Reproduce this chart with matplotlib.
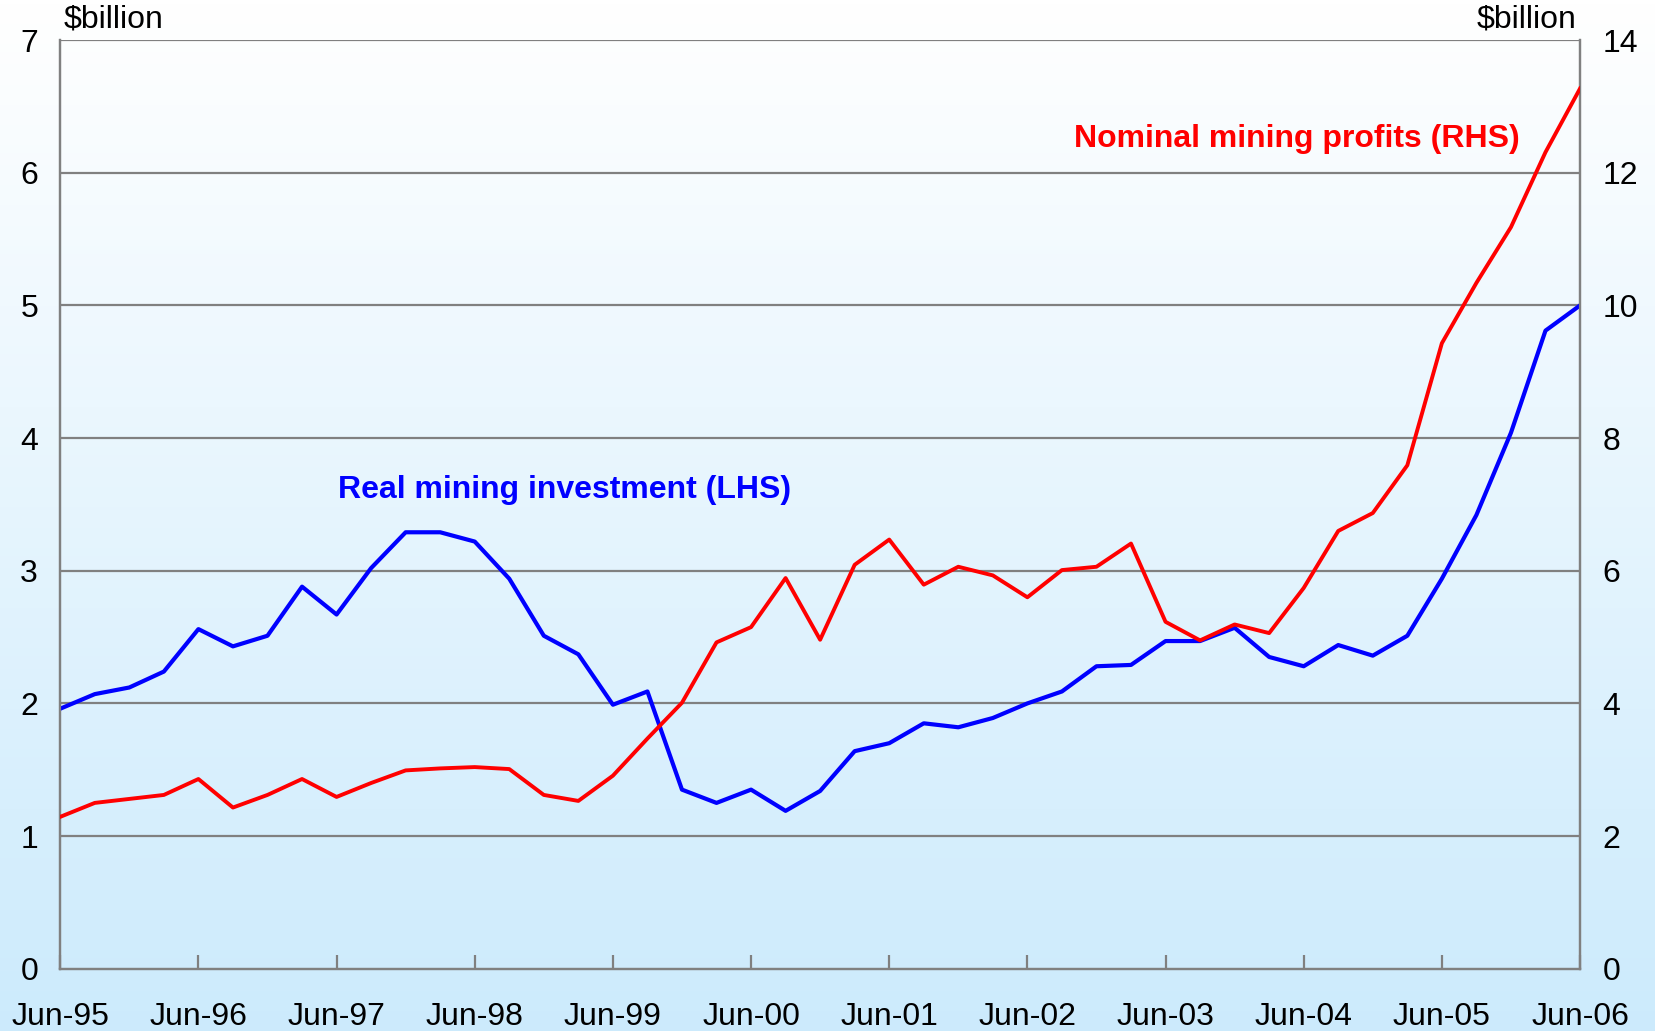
import matplotlib
matplotlib.use('Agg')
import matplotlib.pyplot as plt
import numpy as np

plt.rcParams['font.family'] = ['Liberation Sans', 'DejaVu Sans']

# quarterly, Jun-95 .. Jun-06
tick_labels = ['Jun-95', 'Jun-96', 'Jun-97', 'Jun-98', 'Jun-99', 'Jun-00',
               'Jun-01', 'Jun-02', 'Jun-03', 'Jun-04', 'Jun-05', 'Jun-06']

# real mining investment, $billion (LHS)
investment = [1.96, 2.07, 2.12, 2.24, 2.56, 2.43, 2.51, 2.88, 2.67, 3.02,
              3.29, 3.29, 3.22, 2.94, 2.51, 2.37, 1.99, 2.09, 1.35, 1.25,
              1.35, 1.19, 1.34, 1.64, 1.70, 1.85, 1.82, 1.89, 2.00, 2.09,
              2.28, 2.29, 2.47, 2.47, 2.57, 2.35, 2.28, 2.44, 2.36, 2.51,
              2.94, 3.42, 4.04, 4.81, 5.00]

# nominal mining profits, $billion (RHS)
profits = [2.29, 2.50, 2.56, 2.62, 2.86, 2.43, 2.62, 2.86, 2.59, 2.80,
           2.99, 3.02, 3.04, 3.01, 2.62, 2.53, 2.91, 3.47, 4.01, 4.92,
           5.15, 5.89, 4.96, 6.09, 6.47, 5.79, 6.06, 5.93, 5.60, 6.01,
           6.06, 6.41, 5.23, 4.95, 5.19, 5.06, 5.74, 6.60, 6.87, 7.59,
           9.43, 10.34, 11.18, 12.31, 13.27]

x = np.arange(len(investment))

fig = plt.figure(figsize=(16.55, 10.31), dpi=100)

# background gradient over the whole figure
bg = fig.add_axes([0, 0, 1, 1], zorder=-10)
grad = np.linspace(0, 1, 256).reshape(-1, 1)
top = np.array([1.0, 1.0, 1.0])
bottom = np.array([0.80, 0.92, 0.99])
img = top + (bottom - top) * grad[:, :, None]
bg.imshow(img, aspect='auto', extent=[0, 1, 0, 1])
bg.axis('off')

ax = fig.add_axes([0.0364, 0.0604, 0.9183, 0.9007])
ax.patch.set_alpha(0)
ax2 = ax.twinx()

grid_c = '#808080'
fs = 23
ax.set_ylim(0, 7)
ax.set_yticks(range(0, 8))
ax2.set_ylim(0, 14)
ax2.set_yticks(range(0, 15, 2))
ax.set_xlim(0, len(x) - 1)
ax.set_xticks(np.arange(0, len(x), 4))
ax.set_xticklabels(tick_labels)

for y in range(1, 8):
    ax.axhline(y, color=grid_c, lw=1.6, zorder=1)

ax.plot(x, investment, color='#0000FF', lw=3.0, zorder=3)
ax2.plot(x, profits, color='#FF0000', lw=2.8, zorder=3)

for a in (ax, ax2):
    for s in a.spines.values():
        s.set_color(grid_c)
        s.set_linewidth(1.6)
    a.spines['top'].set_visible(False)

ax.tick_params(axis='x', direction='in', length=10, width=1.6, color=grid_c,
               labelsize=fs, pad=24)
ax.tick_params(axis='y', length=0, labelsize=fs, pad=16)
ax2.tick_params(axis='y', length=0, labelsize=fs, pad=16)

ax.text(0.002, 1.006, '$billion', transform=ax.transAxes, fontsize=fs,
        ha='left', va='bottom')
ax2.text(0.998, 1.006, '$billion', transform=ax.transAxes, fontsize=fs,
         ha='right', va='bottom')

ax.text(0.332, 0.515, 'Real mining investment (LHS)', transform=ax.transAxes,
        color='#0000FF', fontsize=fs, fontweight='bold', ha='center', va='center')
ax.text(0.8135, 0.893, 'Nominal mining profits (RHS)', transform=ax.transAxes,
        color='#FF0000', fontsize=fs, fontweight='bold', ha='center', va='center')

fig.savefig('out.png', dpi=100)
